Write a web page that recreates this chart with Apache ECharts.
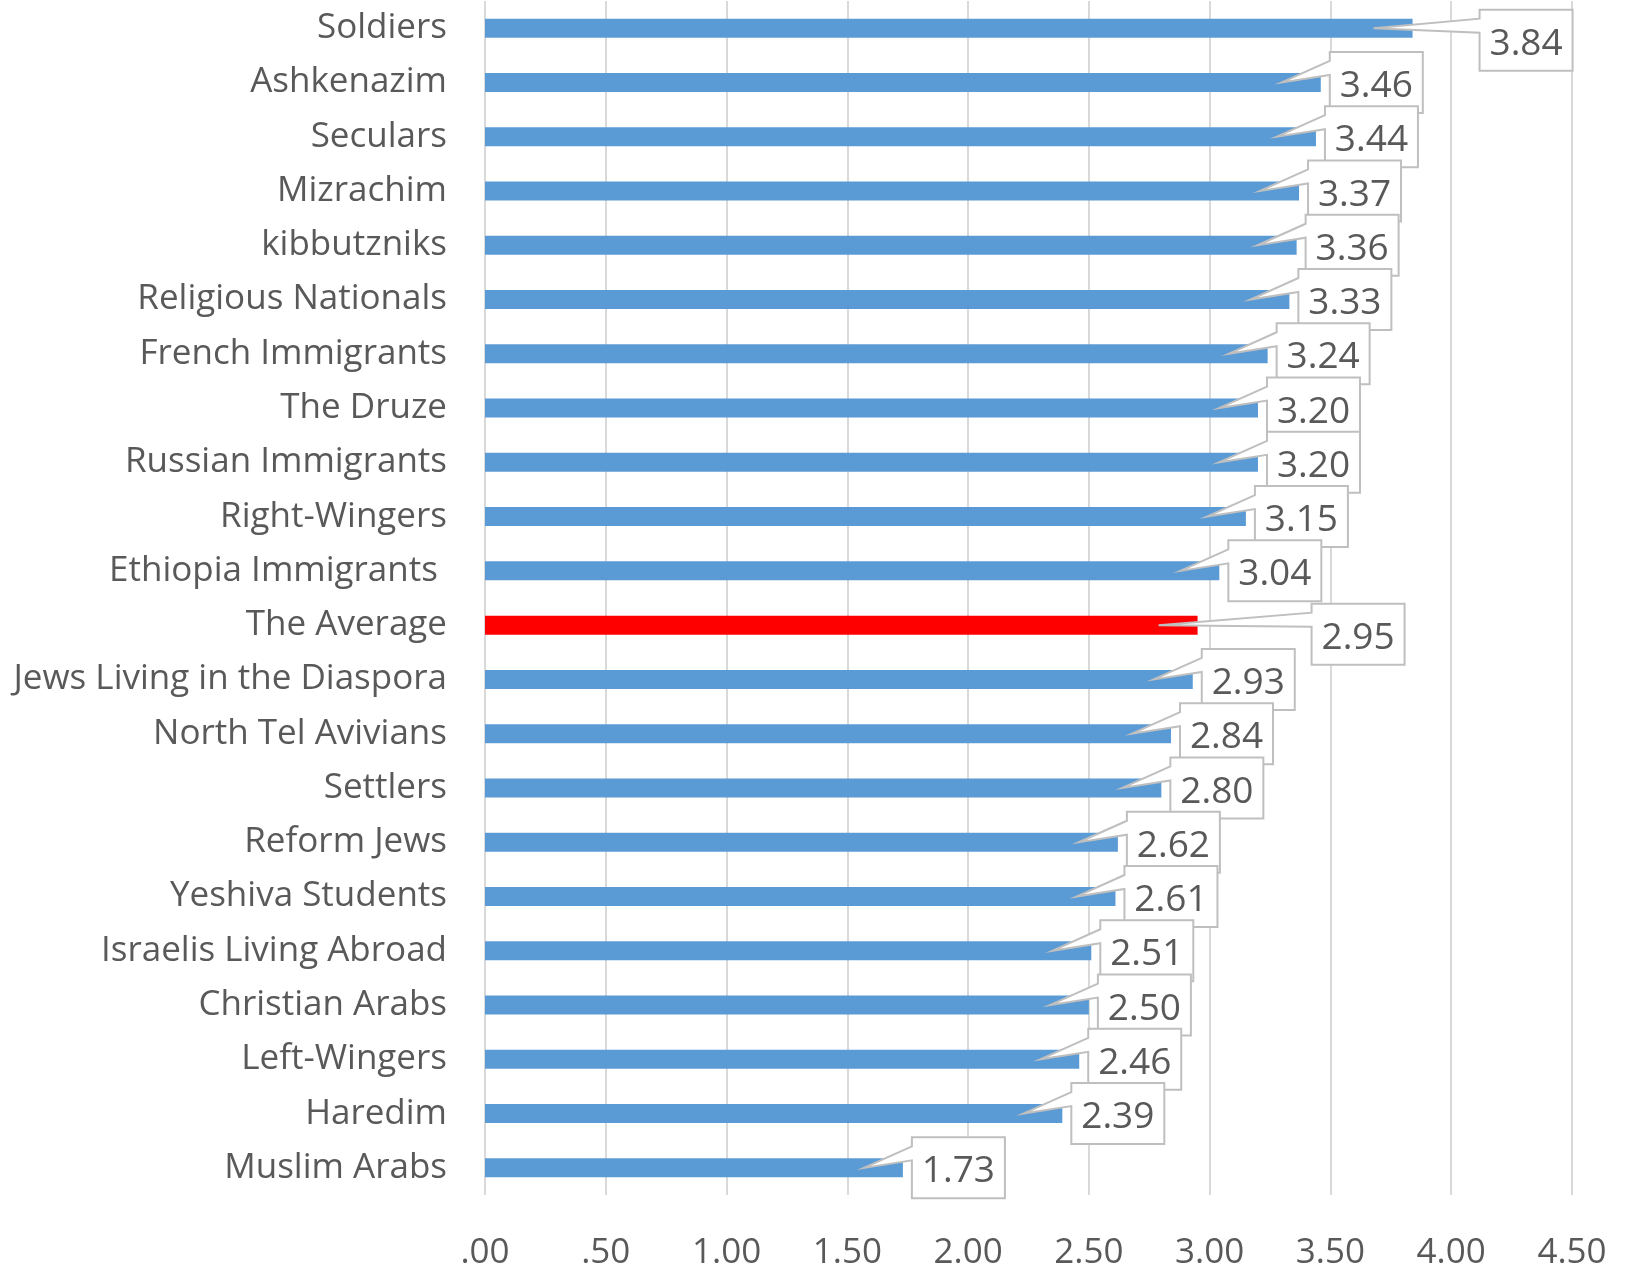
<!DOCTYPE html>
<html>
<head>
<meta charset="utf-8">
<script src="https://cdn.jsdelivr.net/npm/echarts@6/dist/echarts.min.js"></script>
<style>
html,body{margin:0;padding:0;background:#fff;}
#chart{width:1625px;height:1271px;}
</style>
</head>
<body>
<div id="chart"></div>
<script>
const categories = ['Soldiers','Ashkenazim','Seculars','Mizrachim','kibbutzniks','Religious Nationals','French Immigrants','The Druze','Russian Immigrants','Right-Wingers','Ethiopia Immigrants ','The Average','Jews Living in the Diaspora','North Tel Avivians','Settlers','Reform Jews','Yeshiva Students','Israelis Living Abroad','Christian Arabs','Left-Wingers','Haredim','Muslim Arabs'];
const values = [3.84,3.46,3.44,3.37,3.36,3.33,3.24,3.20,3.20,3.15,3.04,2.95,2.93,2.84,2.80,2.62,2.61,2.51,2.50,2.46,2.39,1.73];
const highlightCategory = 'The Average';
const axisMin = 0, axisMax = 4.5, axisInterval = 0.5;

// style: callout box offsets (px) relative to bar end; default [9, 0]
const calloutOffsets = { 'Soldiers': [67, 12], 'The Average': [114, 9] };

const FONT = 'Open Sans';
const TEXT = '#595959';
const chart = echarts.init(document.getElementById('chart'));
chart.setOption({
  animation: false,
  backgroundColor: '#fff',
  grid: { left: 485, right: 53, top: 1, bottom: 73, containLabel: false },
  xAxis: {
    type: 'value', min: axisMin, max: axisMax, interval: axisInterval,
    axisLine: { show: false }, axisTick: { show: false },
    splitLine: { show: true, lineStyle: { color: '#d9d9d9', width: 2 } },
    axisLabel: {
      color: TEXT, fontFamily: FONT, fontSize: 35, margin: 41,
      formatter: v => v.toFixed(2).replace(/^0/, '')
    }
  },
  yAxis: {
    type: 'category', data: categories, inverse: true,
    axisLine: { show: false }, axisTick: { show: false },
    axisLabel: { color: TEXT, fontFamily: FONT, fontSize: 35, margin: 38, padding: [8, 0, 0, 0] }
  },
  series: [
    {
      type: 'bar', data: values, barWidth: 19,
      itemStyle: { color: p => categories[p.dataIndex] === highlightCategory ? '#ff0000' : '#5b9bd5' },
      z: 2
    },
    {
      type: 'custom', z: 5, clip: false,
      data: values.map((v, i) => [v, i]),
      encode: { x: 0, y: 1 },
      renderItem: function (params, api) {
        const v = api.value(0), idx = api.value(1);
        const end = api.coord([v, idx]);
        const off = calloutOffsets[categories[idx]] || [9, 0];
        const W = 93, H = 61;
        const bx = end[0] + off[0], by = end[1] - H / 2 + off[1];
        const px = end[0] - 39, py = end[1];
        return {
          type: 'group',
          children: [
            {
              type: 'polygon',
              shape: { points: [[bx, by], [bx + W, by], [bx + W, by + H], [bx, by + H], [bx, by + 23], [px, py], [bx, by + 9]] },
              style: { fill: '#fff', stroke: '#bfbfbf', lineWidth: 2 }
            },
            {
              type: 'text',
              x: bx + W / 2, y: by + H / 2 + 4,
              style: {
                text: v.toFixed(2), fill: TEXT, fontFamily: FONT, fontSize: 37,
                align: 'center', verticalAlign: 'middle'
              }
            }
          ]
        };
      }
    }
  ]
});
</script>
</body>
</html>
